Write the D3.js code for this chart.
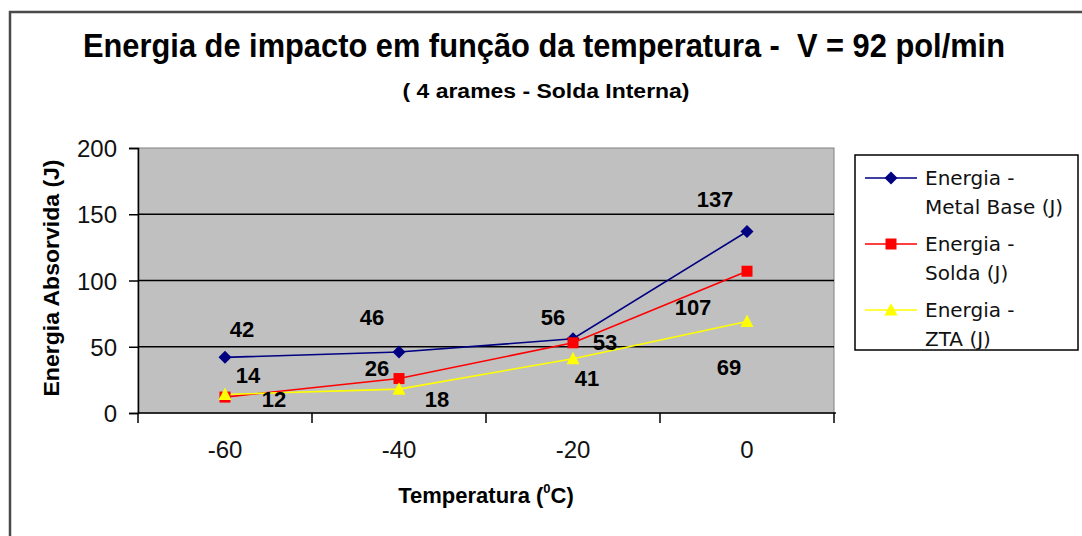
<!DOCTYPE html>
<html>
<head>
<meta charset="utf-8">
<script src="https://cdn.jsdelivr.net/npm/d3@7"></script>
<style>
  html, body { margin: 0; padding: 0; background: #fff; }
  svg { display: block; }
</style>
</head>
<body>
<script>
// Categories (temperature, °C) and absorbed energy per series (J)
const temperatures = ["-60", "-40", "-20", "0"];
const metalBase = [42, 46, 56, 137];
const solda = [12, 26, 53, 107];
const zta = [14, 18, 41, 69];
const yTicks = [0, 50, 100, 150, 200];

// Series names as shown in the legend (two lines each)
const seriesNames = [
  ["Energia -", "Metal Base (J)"],
  ["Energia -", "Solda (J)"],
  ["Energia -", "ZTA (J)"]
];

// Placement of each value label relative to its point (pixels)
const labelOffsets = [
  [[17, -28], [-27, -35], [-20, -22], [-32, -32]],
  [[49, 2], [-22, -10], [32, -1], [-54, 36]],
  [[23, -19], [38, 10], [14, 19], [-18, 46]]
];

const W = 1082, H = 536;
const plot = { left: 138, right: 834, top: 148, bottom: 413 };

const series = [
  { values: metalBase, color: "#000080", marker: "diamond" },
  { values: solda, color: "#ff0000", marker: "square" },
  { values: zta, color: "#ffff00", marker: "triangle" }
];

const svg = d3.select("body").append("svg")
  .attr("width", W).attr("height", H);

// Outer chart frame
svg.append("path")
  .attr("d", `M${W},12 H10 V${H}`)
  .attr("fill", "none").attr("stroke", "#4a4a4a").attr("stroke-width", 2.5);

const x = d3.scaleBand().domain(temperatures).range([plot.left, plot.right]);
const xc = d => x(d) + x.bandwidth() / 2;
const y = d3.scaleLinear().domain([0, 200]).range([plot.bottom, plot.top]);

// Plot area
svg.append("rect")
  .attr("x", plot.left).attr("y", plot.top)
  .attr("width", plot.right - plot.left).attr("height", plot.bottom - plot.top)
  .attr("fill", "#c0c0c0").attr("stroke", "#808080").attr("stroke-width", 1);

// Horizontal gridlines
svg.append("g").selectAll("line")
  .data(yTicks.filter(t => t > 0 && t < 200))
  .join("line")
  .attr("x1", plot.left).attr("x2", plot.right)
  .attr("y1", d => y(d)).attr("y2", d => y(d))
  .attr("stroke", "#000").attr("stroke-width", 1.5);

// Y axis
const yAxis = svg.append("g")
  .attr("transform", `translate(${plot.left},0)`)
  .call(d3.axisLeft(y).tickValues(yTicks).tickSize(9).tickPadding(12).tickFormat(d3.format("d")));
yAxis.select(".domain").attr("stroke", "#000").attr("stroke-width", 1.5);
yAxis.selectAll(".tick line").attr("stroke", "#000").attr("stroke-width", 1.5);
yAxis.selectAll(".tick text")
  .attr("font-family", "'Liberation Sans', Arial, sans-serif")
  .attr("font-size", 24).attr("fill", "#111")
  .attr("dy", "0.36em");

// X axis: ticks on category boundaries, labels at category centres
const xAxisG = svg.append("g").attr("transform", `translate(0,${plot.bottom})`);
xAxisG.append("line")
  .attr("x1", plot.left).attr("x2", plot.right + 2)
  .attr("stroke", "#000").attr("stroke-width", 1.5);
const boundaries = temperatures.map(t => x(t)).concat([x(temperatures[temperatures.length - 1]) + x.bandwidth()]);
xAxisG.selectAll("line.tk").data(boundaries).join("line")
  .attr("class", "tk")
  .attr("x1", d => d).attr("x2", d => d)
  .attr("y1", 0).attr("y2", 10)
  .attr("stroke", "#000").attr("stroke-width", 1.5);
xAxisG.selectAll("text").data(temperatures).join("text")
  .attr("x", d => xc(d)).attr("y", 45)
  .attr("text-anchor", "middle")
  .attr("font-family", "'Liberation Sans', Arial, sans-serif")
  .attr("font-size", 24).attr("fill", "#111")
  .text(d => d);

// Lines
const line = d3.line().x((d, i) => xc(temperatures[i])).y(d => y(d));
series.forEach(s => {
  svg.append("path")
    .datum(s.values)
    .attr("d", line)
    .attr("fill", "none")
    .attr("stroke", s.color)
    .attr("stroke-width", 1.6);
});

// Marker shapes
function markerPath(type) {
  if (type === "diamond") return "M0,-6.5 L6.5,0 L0,6.5 L-6.5,0 Z";
  if (type === "square") return "M-5.5,-5.5 H5.5 V5.5 H-5.5 Z";
  return "M0,-7 L6.5,5.5 L-6.5,5.5 Z";
}

series.forEach(s => {
  svg.append("g").selectAll("path")
    .data(s.values)
    .join("path")
    .attr("transform", (d, i) => `translate(${xc(temperatures[i])},${y(d)})`)
    .attr("d", markerPath(s.marker))
    .attr("fill", s.color);
});

// Value labels
series.forEach((s, si) => {
  svg.append("g").selectAll("text")
    .data(s.values)
    .join("text")
    .attr("x", (d, i) => xc(temperatures[i]) + labelOffsets[si][i][0])
    .attr("y", (d, i) => y(d) + labelOffsets[si][i][1])
    .attr("dy", "0.36em")
    .attr("text-anchor", "middle")
    .attr("font-family", "'Liberation Sans', Arial, sans-serif")
    .attr("font-weight", "bold")
    .attr("font-size", 22)
    .attr("fill", "#000")
    .text(d => d);
});

// Titles
svg.append("text")
  .attr("x", 544).attr("y", 57)
  .attr("text-anchor", "middle")
  .attr("font-family", "'Liberation Sans', Arial, sans-serif")
  .attr("font-weight", "bold").attr("font-size", 33)
  .attr("textLength", 922).attr("lengthAdjust", "spacingAndGlyphs")
  .attr("xml:space", "preserve")
  .text("Energia de impacto em função da temperatura -  V = 92 pol/min");

svg.append("text")
  .attr("x", 546).attr("y", 98)
  .attr("text-anchor", "middle")
  .attr("font-family", "'Liberation Sans', Arial, sans-serif")
  .attr("font-weight", "bold").attr("font-size", 20)
  .attr("textLength", 287).attr("lengthAdjust", "spacingAndGlyphs")
  .text("( 4 arames - Solda Interna)");

// Axis titles
svg.append("text")
  .attr("transform", "translate(59,278) rotate(-90)")
  .attr("text-anchor", "middle")
  .attr("font-family", "'Liberation Sans', Arial, sans-serif")
  .attr("font-weight", "bold").attr("font-size", 22)
  .attr("textLength", 237).attr("lengthAdjust", "spacingAndGlyphs")
  .text("Energia Absorvida (J)");

const xt = svg.append("text")
  .attr("x", 486).attr("y", 503)
  .attr("text-anchor", "middle")
  .attr("font-family", "'Liberation Sans', Arial, sans-serif")
  .attr("font-weight", "bold").attr("font-size", 22);
xt.append("tspan").text("Temperatura (");
xt.append("tspan").attr("font-size", 13).attr("dy", -10).text("0");
xt.append("tspan").attr("dy", 10).text("C)");

// Legend
const legend = svg.append("g");
legend.append("rect")
  .attr("x", 855).attr("y", 155).attr("width", 223).attr("height", 195)
  .attr("fill", "#fff").attr("stroke", "#000").attr("stroke-width", 1.5);
series.forEach((s, i) => {
  const ly = 178 + i * 66;
  legend.append("line")
    .attr("x1", 865).attr("x2", 917).attr("y1", ly).attr("y2", ly)
    .attr("stroke", s.color).attr("stroke-width", 1.6);
  legend.append("path")
    .attr("transform", `translate(891,${ly})`)
    .attr("d", markerPath(s.marker))
    .attr("fill", s.color);
  seriesNames[i].forEach((t, k) => {
    legend.append("text")
      .attr("x", 925).attr("y", ly + k * 29)
      .attr("dy", "0.36em")
      .attr("font-family", "'DejaVu Sans', sans-serif")
      .attr("font-size", 20).attr("fill", "#111")
      .text(t);
  });
});
</script>
</body>
</html>
